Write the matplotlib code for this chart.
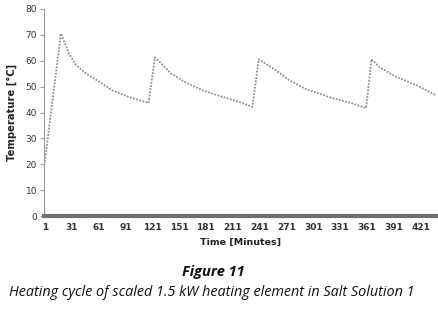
import matplotlib
matplotlib.use("Agg")
import matplotlib.pyplot as plt

# readings taken off the heating-cycle curve
minutes = [1, 19, 28, 36, 47, 62, 76, 95, 113, 117,
           124, 134, 142, 151, 157, 177, 200, 218, 233,
           240, 259, 274, 293, 322, 344, 360,
           366, 375, 394, 416, 438]
temps = [21, 70.5, 62.8, 58.3, 55.1, 51.9, 48.6, 46, 44.1, 43.7,
         61.3, 58, 55.1, 53.2, 51.9, 48.6, 46, 44.1, 42.2,
         60.6, 56.4, 52.5, 49, 45.6, 43.6, 41.7,
         60.6, 57.5, 53.7, 50.6, 46.7]
xlabels = list(range(1, 422, 30))
ylabels = list(range(0, 81, 10))

fig = plt.figure(figsize=(4.39, 3.10), dpi=100)
ax = fig.add_axes([0.100, 0.303, 0.895, 0.668])

ax.plot(minutes, temps, color="#8f8f8f", linestyle=(0, (1, 0.8)), linewidth=1.3)

ax.set_xlim(0, 439)
ax.set_ylim(0, 80)
ax.set_xticks(xlabels)
ax.set_xticklabels([str(v) for v in xlabels])
ax.set_xticks([v + 15 for v in xlabels[:-1]] + [436], minor=True)
ax.set_yticks(ylabels)

for s in ["top", "right"]:
    ax.spines[s].set_visible(False)
ax.spines["left"].set_color("#9a9a9a")
ax.spines["left"].set_linewidth(0.8)
ax.spines["bottom"].set_color("#6f6f6f")
ax.spines["bottom"].set_linewidth(3)

ax.tick_params(axis="y", length=3, width=0.8, color="#9a9a9a", labelsize=6.5,
               labelcolor="#333333", pad=2)
ax.tick_params(axis="x", which="major", length=0, labelsize=6.5, labelcolor="#333333", pad=5)
ax.tick_params(axis="x", which="minor", length=3, width=0.8, color="#d0d0d0", direction="inout")
for lbl in ax.get_xticklabels():
    lbl.set_fontweight("bold")

ax.set_xlabel("Time [Minutes]", fontsize=6.8, fontweight="bold", color="#222222", labelpad=4)
ax.set_ylabel("Temperature [°C]", fontsize=7.2, fontweight="bold", color="#222222", labelpad=6)

fig.text(0.485, 0.122, "Figure 11", ha="center", va="center", fontsize=10.5,
         fontweight="bold", style="italic", family="Open Sans", color="#111111")
fig.text(0.482, 0.055, "Heating cycle of scaled 1.5 kW heating element in Salt Solution 1",
         ha="center", va="center", fontsize=10.4, style="italic", family="Open Sans",
         color="#111111")

fig.savefig("out.png", dpi=100)
